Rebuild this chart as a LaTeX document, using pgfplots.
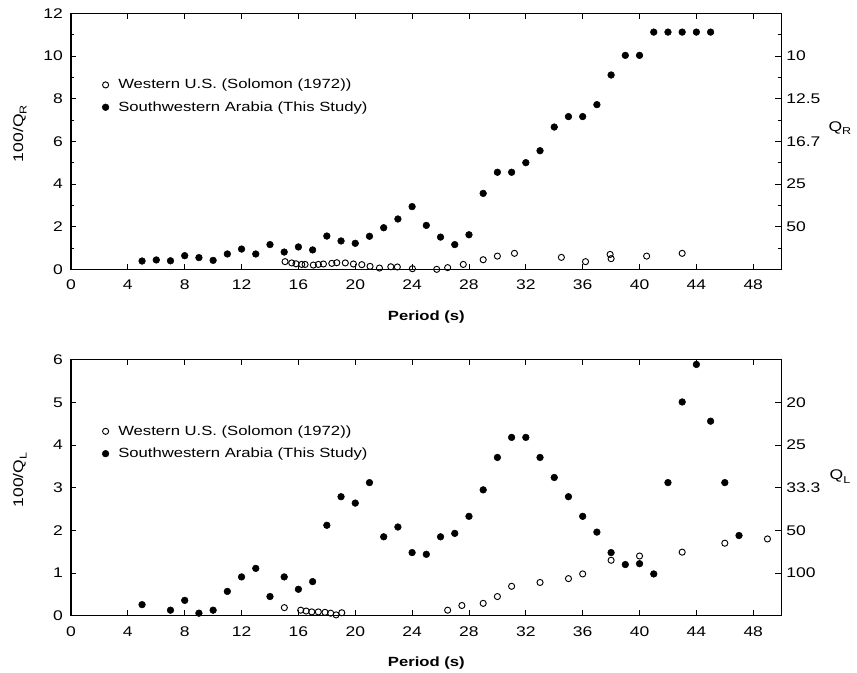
\documentclass[border=0pt]{standalone}
\usepackage{fontspec}
\setmainfont{Liberation Sans}[FakeStretch=1.25]
\usepackage{pgfplots}
\pgfplotsset{compat=1.18}
\usepackage{pgfplotstable}

\newcommand{\sub}[1]{\raisebox{-0.5ex}{\fontsize{7.5}{8}\selectfont #1}}

\pgfplotstableread{
x y
5 0.39
6 0.44
7 0.40
8 0.64
9 0.55
10 0.42
11 0.72
12 0.95
13 0.72
14 1.16
15 0.81
16 1.05
17 0.91
18 1.56
19 1.33
20 1.22
21 1.55
22 1.95
23 2.36
24 2.94
25 2.06
26 1.51
27 1.16
28 1.62
29 3.56
30 4.55
31 4.55
32 5.00
33 5.56
34 6.67
35 7.16
36 7.16
37 7.72
38 9.11
39 10.03
40 10.03
41 11.12
42 11.12
43 11.12
44 11.12
45 11.12
}\arabR

\pgfplotstableread{
x y
15.06 0.36
15.53 0.30
15.83 0.26
16.23 0.23
16.47 0.23
17.05 0.20
17.4 0.23
17.76 0.25
18.35 0.28
18.7 0.31
19.3 0.30
19.87 0.25
20.46 0.22
21.04 0.14
21.7 0.06
22.5 0.12
22.96 0.11
24.02 0.03
25.73 0.00
26.5 0.08
27.6 0.23
29.0 0.45
30.0 0.62
31.2 0.75
34.5 0.56
36.2 0.36
37.93 0.70
38.0 0.50
40.5 0.62
43.0 0.75
}\westR

\pgfplotstableread{
x y
5 0.26
7 0.13
8 0.36
9 0.06
10 0.13
11 0.57
12 0.91
13 1.11
14 0.45
15 0.91
16 0.62
17 0.80
18 2.12
19 2.79
20 2.64
21 3.12
22 1.85
23 2.08
24 1.48
25 1.44
26 1.85
27 1.93
28 2.33
29 2.95
30 3.71
31 4.18
32 4.18
33 3.71
34 3.24
35 2.79
36 2.33
37 1.96
38 1.48
39 1.20
40 1.22
41 0.98
42 3.12
43 5.01
44 5.89
45 4.56
46 3.12
47 1.88
}\arabL

\pgfplotstableread{
x y
15.01 0.19
16.16 0.13
16.54 0.11
16.94 0.09
17.4 0.09
17.87 0.08
18.27 0.06
18.65 0.02
19.05 0.07
26.5 0.13
27.5 0.24
29.0 0.29
30.0 0.45
31.0 0.69
33.0 0.78
35.0 0.87
36.0 0.98
38.0 1.30
40.0 1.40
43.0 1.49
46.0 1.70
49.0 1.80
}\westL

\pgfplotsset{
  base/.style={
    scale only axis, width=533pt, height=192pt,
    xmin=0, xmax=50, clip=false,
    axis line style={line width=1.1pt},
    tick align=inside,
    major tick length=4pt, minor tick length=2.5pt,
    tick style={line width=0.6pt, black},
    /pgf/number format/assume math mode=true,
    tick label style={font=\fontsize{10.5}{12}\selectfont},
  },
  main/.style={base,
    xtick={0,4,...,48}, xtick pos=both, ytick pos=left,
    xticklabel style={yshift=-4.5pt},
    yticklabel style={xshift=-2.5pt},
    xlabel={\textbf{Period (s)}},
    xlabel style={font=\fontsize{10}{12}\selectfont, at={(axis description cs:0.5,-0.185)}, anchor=center},
    ylabel style={font=\fontsize{10.5}{12}\selectfont, at={(axis description cs:-0.072,0.53)}, anchor=center},
    legend style={at={(0.038,0.765)}, anchor=north west, draw=none, fill=none,
      font=\fontsize{10}{12}\selectfont, row sep=4pt, column sep=5pt},
    legend cell align=left,
  },
  over/.style={base, axis y line*=right, axis x line*=bottom,
    xtick=\empty, minor xtick={2,6,...,46},
    axis line style={-, line width=1.1pt}, major tick length=5pt},
  openm/.style={only marks, mark=o, mark size=2.3pt, mark options={line width=0.7pt, draw=black}},
  fillm/.style={only marks, mark=*, mark size=2.5pt, mark options={draw=black, fill=black}},
}

\begin{document}
\begin{tikzpicture}
% ---- top panel ----
\begin{axis}[main, at={(53.25pt,302pt)}, anchor=south west,
  ymin=0, ymax=12, ytick={0,2,...,12}, minor ytick={1,3,...,11},
  ylabel={100/Q\sub{R}}]
\addplot[openm] table[x=x,y=y] {\westR};
\addlegendentry{Western U.S. (Solomon (1972))}
\addplot[fillm] table[x=x,y=y] {\arabR};
\addlegendentry{Southwestern Arabia (This Study)}
\end{axis}
\begin{axis}[over, at={(53.25pt,302pt)}, anchor=south west,
  ymin=0, ymax=12, ytick={2,4,6,8,10}, yticklabels={50,25,16.7,12.5,10},
  minor ytick={1,3,...,11}]
\node[font=\fontsize{10.5}{12}\selectfont] at (rel axis cs:1.082,0.552) {Q\sub{R}};
\end{axis}
% ---- bottom panel ----
\begin{axis}[main, at={(53.25pt,42.2pt)}, anchor=south west,
  ymin=0, ymax=6, ytick={0,1,...,6},
  ylabel={100/Q\sub{L}}]
\addplot[openm] table[x=x,y=y] {\westL};
\addlegendentry{Western U.S. (Solomon (1972))}
\addplot[fillm] table[x=x,y=y] {\arabL};
\addlegendentry{Southwestern Arabia (This Study)}
\end{axis}
\begin{axis}[over, at={(53.25pt,42.2pt)}, anchor=south west,
  ymin=0, ymax=6, ytick={1,2,3,4,5}, yticklabels={100,50,33.3,25,20}]
\node[font=\fontsize{10.5}{12}\selectfont] at (rel axis cs:1.082,0.543) {Q\sub{L}};
\end{axis}
\pgfresetboundingbox
\useasboundingbox (0,0) rectangle (642.75pt,504pt);
\end{tikzpicture}
\end{document}
